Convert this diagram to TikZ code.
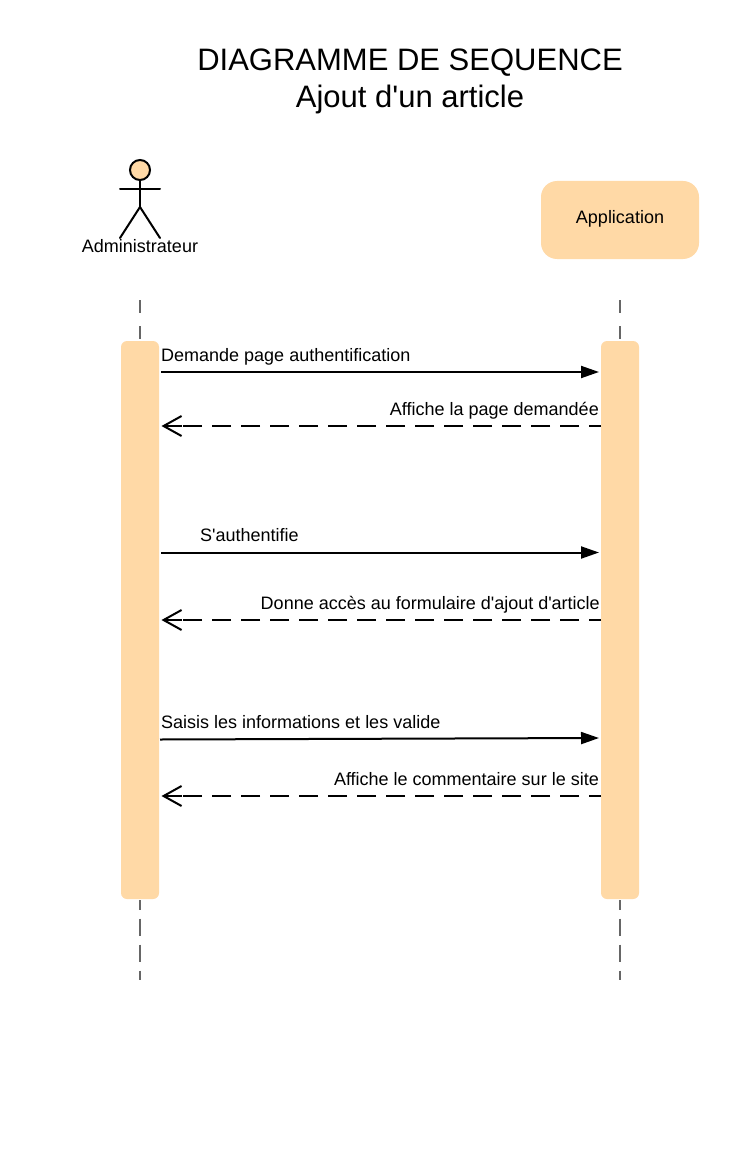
\documentclass[tikz,border=0pt]{standalone}
\usepackage{fontspec}
\setmainfont{Liberation Sans}
\usetikzlibrary{arrows.meta}
\definecolor{peach}{HTML}{FFD9A6}
\tikzset{
 x=1pt,y=-1pt,
 bar/.style={fill=peach,draw=none,rounded corners=6pt,minimum width=38pt,minimum height=558pt,inner sep=0pt,outer sep=0pt},
 lbl/.style={font=\fontsize{18pt}{21pt}\selectfont,text=black,inner sep=0pt,anchor=base},
 lifetop/.style={draw=black!60,line width=2pt,dash pattern=on 13pt off 13pt},
 lifebot/.style={draw=black!60,line width=2pt,dash pattern=on 17.5pt off 8.5pt,dash phase=7.5pt},
 call/.style={draw=black,line width=2pt,-{Triangle[length=18pt,width=12pt]}},
 ret/.style={draw=black,line width=2pt,dash pattern=on 19pt off 10pt,dash phase=7pt},
 barb/.style={draw=black,line width=2pt,-{Straight Barb[length=18pt,width=20pt,line width=2pt]}},
 stick/.style={draw=black,line width=2pt,line cap=round},
}
\begin{document}
\begin{tikzpicture}
\useasboundingbox (0,0) rectangle (752,1150);
\fill[white] (0,0) rectangle (752,1150);
\node[font=\fontsize{31pt}{36pt}\selectfont,inner sep=0pt,anchor=base] (t1) at (410,71) {DIAGRAMME DE SEQUENCE};
\node[font=\fontsize{31pt}{36pt}\selectfont,inner sep=0pt,anchor=base] (t2) at (410,108) {Ajout d\textquotesingle un article};
% lifeline ends
\coordinate (la1) at (140,300); \coordinate (la2) at (140,341);
\coordinate (la3) at (140,900); \coordinate (la4) at (140,980);
\coordinate (lb1) at (620,300); \coordinate (lb2) at (620,341);
\coordinate (lb3) at (620,900); \coordinate (lb4) at (620,980);
\draw[lifetop] (la1) -- (la2);
\draw[lifebot] (la3) -- (la4);
\draw[lifetop] (lb1) -- (lb2);
\draw[lifebot] (lb3) -- (lb4);
% activation bars
\node[bar] (barA) at (140,620) {};
\node[bar] (barB) at (620,620) {};
% actor
\node[circle,draw=black,line width=2pt,fill=peach,minimum size=20pt,inner sep=0pt] (head) at (140,170) {};
\coordinate (hip) at (140,207); \coordinate (armL) at (120,189); \coordinate (armR) at (160,189);
\coordinate (footL) at (120,238); \coordinate (footR) at (160,238);
\draw[stick] (head) -- (hip);
\draw[stick] (armL) -- (armR);
\draw[stick] (footL) -- (hip) -- (footR);
\node[lbl] (admin) at (140,253) {Administrateur};
% application
\node[fill=peach,rounded corners=16pt,minimum width=158pt,minimum height=78pt,inner sep=0pt] (app) at (620,220) {};
\node[lbl] (applbl) at (620,224) {Application};
% messages
\coordinate (s1) at (161,372); \coordinate (e1) at (599,372);
\coordinate (s2) at (601,426); \coordinate (b2) at (182,426); \coordinate (e2) at (161.5,426);
\coordinate (s3) at (161,552.5); \coordinate (e3) at (599,552.5);
\coordinate (s4) at (601,620); \coordinate (b4) at (182,620); \coordinate (e4) at (161.5,620);
\coordinate (s5) at (160,739.5); \coordinate (e5) at (599,738);
\coordinate (s6) at (601,796); \coordinate (b6) at (182,796); \coordinate (e6) at (161.5,796);
\draw[call] (s1) -- (e1);
\draw[ret] (s2) -- (b2);
\draw[barb] (b2) -- (e2);
\draw[call] (s3) -- (e3);
\draw[ret] (s4) -- (b4);
\draw[barb] (b4) -- (e4);
\draw[call] (s5) -- (e5);
\draw[ret] (s6) -- (b6);
\draw[barb] (b6) -- (e6);
\node[lbl,anchor=base west] (m1) at (161,361) {Demande page authentification};
\node[lbl,anchor=base east] (m2) at (599,415) {Affiche la page demandée};
\node[lbl,anchor=base west] (m3) at (200,541) {S\textquotesingle authentifie};
\node[lbl,anchor=base east] (m4) at (600,609) {Donne accès au formulaire d\textquotesingle ajout d\textquotesingle article};
\node[lbl,anchor=base west] (m5) at (161,728) {Saisis les informations et les valide};
\node[lbl,anchor=base east] (m6) at (599,785) {Affiche le commentaire sur le site};
\end{tikzpicture}
\end{document}
